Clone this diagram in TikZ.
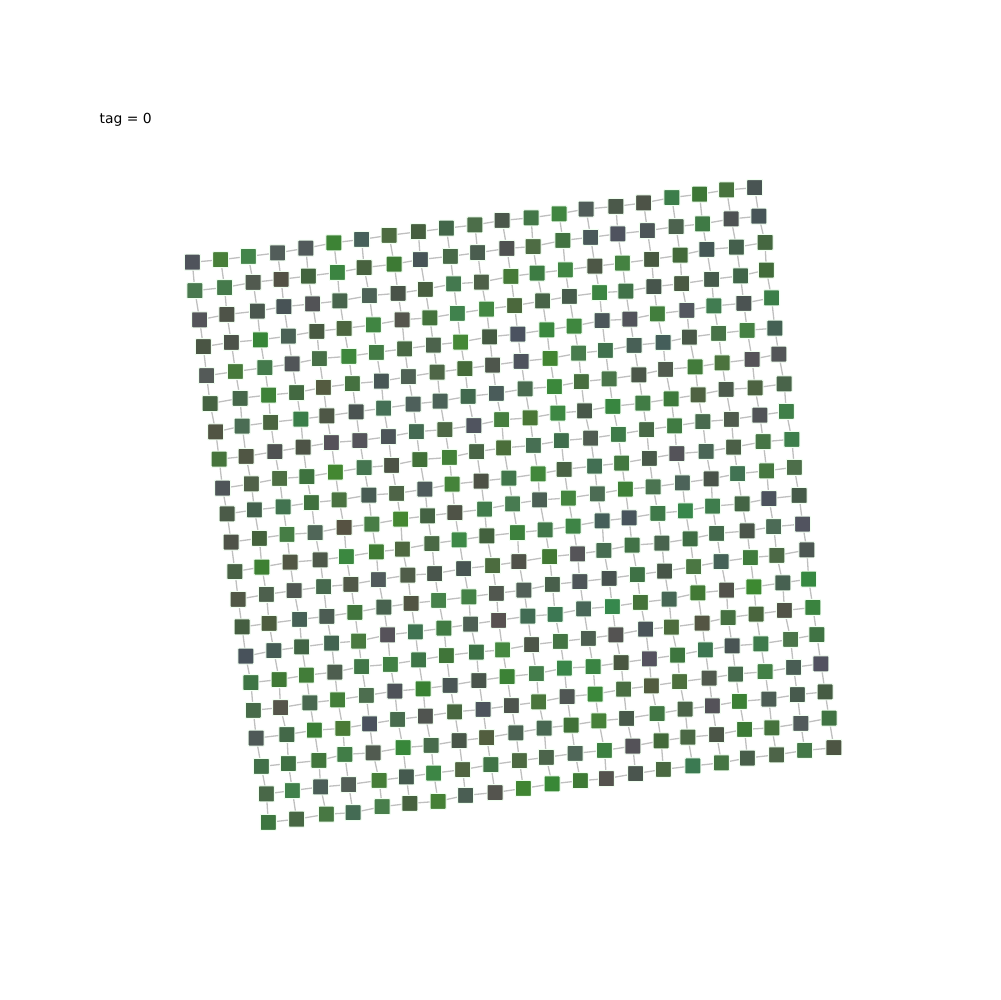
\documentclass[tikz,border=0pt]{standalone}
\usepackage{fontspec}
\setmainfont{DejaVu Sans}
\usetikzlibrary{backgrounds}

\begin{document}
\begin{tikzpicture}[x=0.1mm, y=-0.1mm,
  cell/.style={rectangle, draw=green!6!white, line width=0.1mm, minimum size=1.6mm, inner sep=0pt, rounded corners=0.08mm},
  link/.style={draw=gray!50, line width=0.13mm}]
\useasboundingbox (0,0) rectangle (1000,1000);
\node[anchor=base west, font=\fontsize{3.95}{4.7}\selectfont, inner sep=0pt] (tag) at (99,123.5) {tag = 0};
\pgfmathsetseed{42}
% grid of cells
\foreach \i in {0,...,20} {
  \foreach \j in {0,...,20} {
    \pgfmathsetmacro\px{192+28.2*\i+3.85*\j+1.3*rand}
    \pgfmathsetmacro\py{263-3.8*\i+28.0*\j+1.3*rand}
    \pgfmathsetmacro\gr{rnd^1.4}
    \pgfmathsetmacro\cr{0.31-0.07*\gr+0.03*rand}
    \pgfmathsetmacro\cg{0.32+0.22*\gr}
    \pgfmathsetmacro\cb{0.32-0.08*\gr+0.06*rand}
    \definecolor{cellfill}{rgb}{\cr,\cg,\cb}
    \node[cell, fill=cellfill] (n-\i-\j) at (\px,\py) {};
  }
}
% links
\begin{scope}[on background layer]
\foreach \i in {0,...,20} {
  \foreach \j [evaluate=\j as \k using int(\j+1)] in {0,...,19} {
    \draw[link] (n-\i-\j.center) -- (n-\i-\k.center);
    \draw[link] (n-\j-\i.center) -- (n-\k-\i.center);
  }
}
\end{scope}
\end{tikzpicture}
\end{document}
